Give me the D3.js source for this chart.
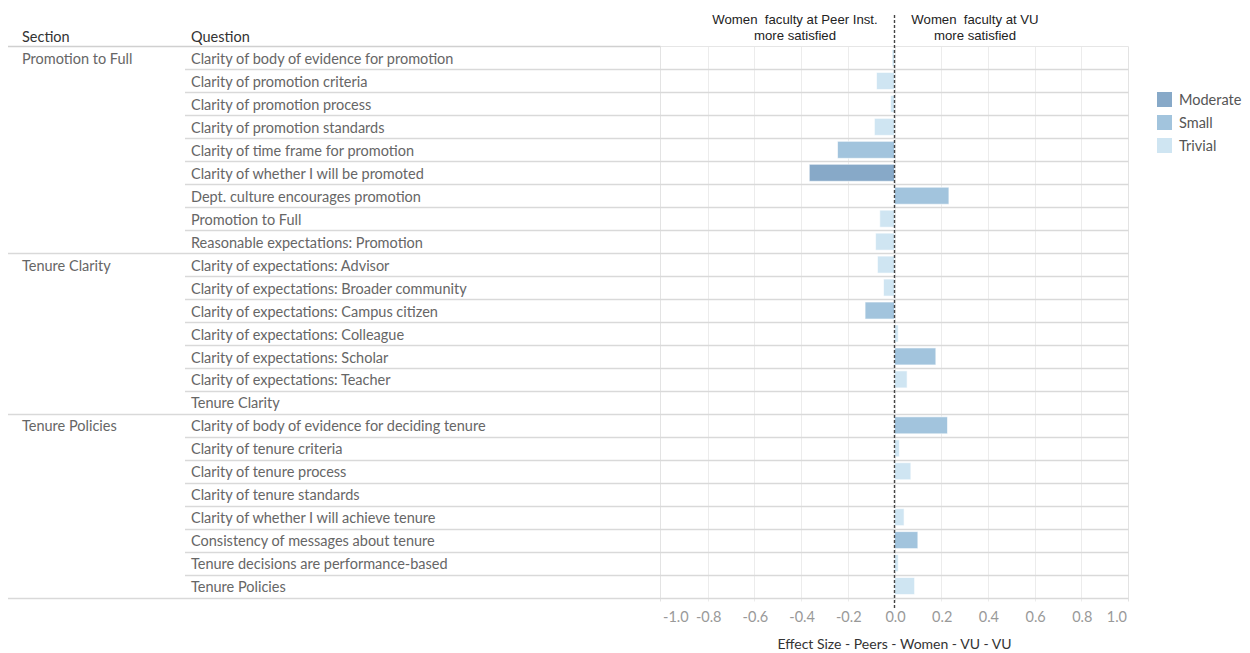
<!DOCTYPE html>
<html>
<head>
<meta charset="utf-8">
<script src="https://cdn.jsdelivr.net/npm/d3@7"></script>
<style>
  html, body { margin: 0; padding: 0; background: #fff; }
  svg { display: block; }
</style>
</head>
<body>
<svg id="chart" width="1250" height="653"></svg>
<script>
// ---- data ----
const sections = ["Promotion to Full", "Tenure Clarity", "Tenure Policies"];
const sectionOf = [
  "Promotion to Full","Promotion to Full","Promotion to Full","Promotion to Full","Promotion to Full",
  "Promotion to Full","Promotion to Full","Promotion to Full","Promotion to Full",
  "Tenure Clarity","Tenure Clarity","Tenure Clarity","Tenure Clarity","Tenure Clarity","Tenure Clarity","Tenure Clarity",
  "Tenure Policies","Tenure Policies","Tenure Policies","Tenure Policies","Tenure Policies","Tenure Policies","Tenure Policies","Tenure Policies"
];
const questions = [
  "Clarity of body of evidence for promotion",
  "Clarity of promotion criteria",
  "Clarity of promotion process",
  "Clarity of promotion standards",
  "Clarity of time frame for promotion",
  "Clarity of whether I will be promoted",
  "Dept. culture encourages promotion",
  "Promotion to Full",
  "Reasonable expectations: Promotion",
  "Clarity of expectations: Advisor",
  "Clarity of expectations: Broader community",
  "Clarity of expectations: Campus citizen",
  "Clarity of expectations: Colleague",
  "Clarity of expectations: Scholar",
  "Clarity of expectations: Teacher",
  "Tenure Clarity",
  "Clarity of body of evidence for deciding tenure",
  "Clarity of tenure criteria",
  "Clarity of tenure process",
  "Clarity of tenure standards",
  "Clarity of whether I will achieve tenure",
  "Consistency of messages about tenure",
  "Tenure decisions are performance-based",
  "Tenure Policies"
];
const effectSizes = [
  -0.010, -0.077, -0.017, -0.086, -0.244, -0.365, 0.233, -0.063, -0.081,
  -0.073, -0.047, -0.126, 0.016, 0.177, 0.054, 0.000,
  0.227, 0.021, 0.070, 0.000, 0.041, 0.100, 0.016, 0.086
];
const magnitudes = [
  "Trivial","Trivial","Trivial","Trivial","Small","Moderate","Small","Trivial","Trivial",
  "Trivial","Trivial","Small","Trivial","Small","Trivial","Trivial",
  "Small","Trivial","Trivial","Trivial","Trivial","Small","Trivial","Trivial"
];
const legendLabels = ["Moderate", "Small", "Trivial"];
const legendColors = ["#87a9c8", "#a2c4dd", "#cfe5f2"];
const tickValues = [-1.0, -0.8, -0.6, -0.4, -0.2, 0.0, 0.2, 0.4, 0.6, 0.8, 1.0];
const annoLeft = ["Women  faculty at Peer Inst.", "more satisfied"];
const annoRight = ["Women  faculty at VU", "more satisfied"];
const axisTitle = "Effect Size - Peers - Women - VU - VU";

// ---- layout ----
const svg = d3.select("#chart");
const FONT = "Lato, 'Open Sans', sans-serif";
const LBL = 14.5;
const topY = 46.5, bottomY = 597.5;
const plotL = 660.5, plotR = 1128.5;
const y = d3.scaleBand().domain(d3.range(questions.length)).range([topY, bottomY]).paddingInner(0).paddingOuter(0);
const x = d3.scaleLinear().domain([-1, 1]).range([661, 1128]);
const color = d3.scaleOrdinal().domain(legendLabels).range(legendColors);

// gridlines
svg.append("g").selectAll("line").data(tickValues.slice(1, -1)).join("line")
  .attr("x1", d => Math.round(x(d)) + 0.5).attr("x2", d => Math.round(x(d)) + 0.5)
  .attr("y1", topY).attr("y2", bottomY + 4)
  .attr("stroke", "#ececec").attr("stroke-width", 1);

// pane borders
svg.append("line").attr("x1", plotL).attr("x2", plotL).attr("y1", topY).attr("y2", bottomY + 4)
  .attr("stroke", "#e3e3e3");
svg.append("line").attr("x1", plotR).attr("x2", plotR).attr("y1", topY).attr("y2", bottomY + 4)
  .attr("stroke", "#e3e3e3");
svg.append("line").attr("x1", plotL).attr("x2", plotR).attr("y1", topY).attr("y2", topY)
  .attr("stroke", "#e6e6e6");

// header line
svg.append("line").attr("x1", 8).attr("x2", plotL).attr("y1", topY).attr("y2", topY)
  .attr("stroke", "#d0d0d0").attr("stroke-width", 1.5);

// row separators
const rowsIdx = d3.range(questions.length);
svg.append("g").selectAll("line").data(rowsIdx).join("line")
  .attr("x1", i => (i === questions.length - 1 || sectionOf[i] !== sectionOf[i + 1]) ? 8 : 185)
  .attr("x2", plotR)
  .attr("y1", i => Math.round(y(i) + y.bandwidth()) + 0.5)
  .attr("y2", i => Math.round(y(i) + y.bandwidth()) + 0.5)
  .attr("stroke", "#d9d9d9").attr("stroke-width", 1.3);

// headers
svg.append("text").attr("x", 22).attr("y", 42).text("Section")
  .attr("font-family", FONT).attr("font-size", LBL).attr("fill", "#333");
svg.append("text").attr("x", 191).attr("y", 42).text("Question")
  .attr("font-family", FONT).attr("font-size", LBL).attr("fill", "#333");

// section labels
sections.forEach(s => {
  const first = sectionOf.indexOf(s);
  svg.append("text").attr("x", 22).attr("y", y(first) + y.bandwidth() / 2 + 1)
    .attr("dy", "0.35em").text(s)
    .attr("font-family", FONT).attr("font-size", LBL).attr("fill", "#666");
});

// question labels
svg.append("g").selectAll("text").data(rowsIdx).join("text")
  .attr("x", 191).attr("y", i => y(i) + y.bandwidth() / 2 + 1).attr("dy", "0.35em")
  .text(i => questions[i])
  .attr("font-family", FONT).attr("font-size", LBL).attr("fill", "#666");

// bars
const barH = 17;
svg.append("g").selectAll("rect").data(rowsIdx.filter(i => effectSizes[i] !== 0)).join("rect")
  .attr("x", i => Math.min(x(0), x(effectSizes[i])))
  .attr("width", i => Math.abs(x(effectSizes[i]) - x(0)))
  .attr("y", i => y(i) + (y.bandwidth() - barH) / 2)
  .attr("height", barH)
  .attr("fill", i => color(magnitudes[i]))
  .attr("stroke", "#ffffff").attr("stroke-opacity", 0.6).attr("stroke-width", 1);

// zero dashed line
svg.append("line").attr("x1", x(0)).attr("x2", x(0)).attr("y1", 15).attr("y2", 608)
  .attr("stroke", "#444").attr("stroke-width", 1.4).attr("stroke-dasharray", "3,2");

// axis tick labels
svg.append("g").selectAll("text").data(tickValues).join("text")
  .attr("x", d => d === -1 ? x(d) + 2 : d === 1 ? x(d) - 1 : x(d) + 1)
  .attr("y", 617).attr("dy", "0.35em")
  .attr("text-anchor", d => d === -1 ? "start" : d === 1 ? "end" : "middle")
  .text(d => d3.format(".1f")(d).replace("\u2212", "-"))
  .attr("font-family", FONT).attr("font-size", 14.5).attr("fill", "#999");

// axis title
svg.append("text").attr("x", x(0)).attr("y", 644).attr("dy", "0.35em")
  .attr("text-anchor", "middle").text(axisTitle)
  .attr("font-family", FONT).attr("font-size", 14).attr("fill", "#333");

// annotations
const AF = "'Liberation Sans', Arial, sans-serif";
annoLeft.forEach((t, k) => {
  svg.append("text").attr("x", 795).attr("y", 19 + k * 16).attr("dy", "0.35em")
    .attr("text-anchor", "middle").style("white-space", "pre").text(t)
    .attr("font-family", AF).attr("font-size", 13.2).attr("fill", "#222");
});
annoRight.forEach((t, k) => {
  svg.append("text").attr("x", 975).attr("y", 19 + k * 16).attr("dy", "0.35em")
    .attr("text-anchor", "middle").style("white-space", "pre").text(t)
    .attr("font-family", AF).attr("font-size", 13.2).attr("fill", "#222");
});

// legend
const lg = svg.append("g");
legendLabels.forEach((l, k) => {
  lg.append("rect").attr("x", 1157).attr("y", 92 + k * 23).attr("width", 15).attr("height", 15)
    .attr("fill", legendColors[k]);
  lg.append("text").attr("x", 1179).attr("y", 99.5 + k * 23).attr("dy", "0.35em").text(l)
    .attr("font-family", FONT).attr("font-size", 14.5).attr("fill", "#555");
});
</script>
</body>
</html>
